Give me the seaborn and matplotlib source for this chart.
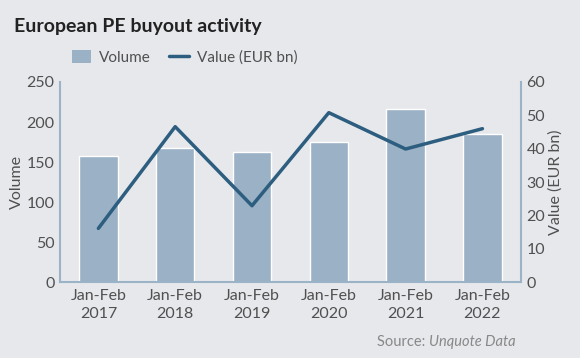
import seaborn as sns
import pandas as pd
import matplotlib.pyplot as plt
from matplotlib.patches import Patch
from matplotlib.lines import Line2D

periods = ["Jan-Feb\n2017", "Jan-Feb\n2018", "Jan-Feb\n2019", "Jan-Feb\n2020", "Jan-Feb\n2021", "Jan-Feb\n2022"]
volume = [158, 168, 163, 175, 216, 185]
value = [16.1, 46.6, 22.9, 50.8, 39.9, 46.0]

bg = "#e7e8ec"
barColor = "#9bb1c5"
lineColor = "#2d5e80"
spineColor = "#9ab3c7"
textColor = "#505050"

sns.set_theme(style="white")
plt.rcParams["font.family"] = ["Lato", "DejaVu Sans"]

df = pd.DataFrame({"period": periods, "volume": volume, "value": value})

fig, ax = plt.subplots(figsize=(5.8, 3.58), dpi=100)
fig.patch.set_facecolor(bg)
ax.set_facecolor(bg)
fig.subplots_adjust(left=0.1034, right=0.898, top=0.771, bottom=0.212)

sns.barplot(data=df, x="period", y="volume", color=barColor, width=0.5, saturation=1, ax=ax)
ax.set_ylim(0, 250)
ax.set_xlim(-0.5, 5.5)
ax.set_yticks(range(0, 251, 50))
ax.set_xlabel("")
ax.set_ylabel("Volume", color=textColor, fontsize=11.5, labelpad=2)
for lbl in ax.get_xticklabels():
    lbl.set_linespacing(1.4)

ax2 = ax.twinx()
sns.lineplot(x=range(len(periods)), y=value, color=lineColor, linewidth=2.5, ax=ax2)
ax2.set_ylim(0, 60)
ax2.set_yticks(range(0, 61, 10))
ax2.set_ylabel("Value (EUR bn)", color=textColor, fontsize=11.5, labelpad=2)

for a in (ax, ax2):
    for s in a.spines.values():
        s.set_visible(False)
    a.tick_params(length=0, labelsize=11.5, labelcolor=textColor, pad=4)
ax.spines["left"].set_visible(True)
ax.spines["left"].set_color(spineColor)
ax.spines["left"].set_linewidth(1.5)
ax.spines["bottom"].set_visible(True)
ax.spines["bottom"].set_color(spineColor)
ax.spines["bottom"].set_linewidth(1.5)
ax2.spines["right"].set_visible(True)
ax2.spines["right"].set_color(spineColor)
ax2.spines["right"].set_linewidth(1.5)
ax.tick_params(axis="x", pad=5)

fig.text(0.024, 0.925, "European PE buyout activity", fontsize=14, fontweight="bold", color="#222222", va="center")

handles = [Patch(facecolor=barColor, edgecolor="none"), Line2D([0], [0], color=lineColor, linewidth=2.5)]
fig.legend(handles, ["Volume", "Value (EUR bn)"], loc="center", bbox_to_anchor=(0.318, 0.84), ncol=2,
           frameon=False, fontsize=11, labelcolor=textColor, handlelength=1.3, handleheight=1.0,
           columnspacing=1.2, handletextpad=0.5)

fig.text(0.74, 0.045, "Source: ", fontsize=10.5, color="#888888", ha="right", va="center")
fig.text(0.74, 0.045, "Unquote Data", fontsize=10.5, color="#888888", style="italic", ha="left", va="center")

plt.savefig("out.png", dpi=100, facecolor=bg)
